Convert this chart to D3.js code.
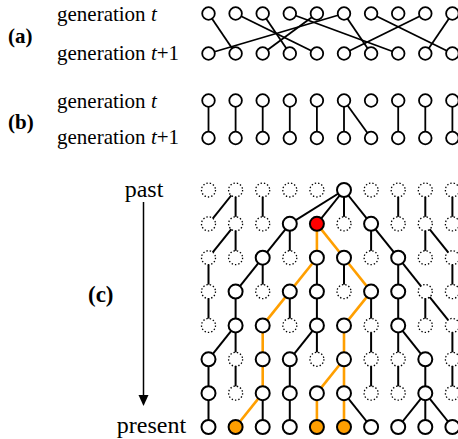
<!DOCTYPE html>
<html>
<head>
<meta charset="utf-8">
<script src="https://cdn.jsdelivr.net/npm/d3@7"></script>
<style>
  body { margin: 0; background: #fff; }
  svg { display: block; }
</style>
</head>
<body>
<script>
const width = 458, height = 439;
const FONT = "'Liberation Serif', 'Times New Roman', Times, serif";

const cols = d3.range(10);

// (a) parent (column in generation t) of each individual in generation t+1
const parentsA = [5, 0, 4, 2, 1, 8, 5, 3, 9, 6];
// (b) one individual reproduces, one dies
const parentsB = [0, 1, 2, 3, 4, 5, 5, 7, 8, 9];
// (c) parent of each individual, one row per generation, past -> present
const parentsC = [
  [1, 1, 2, 5, 5, 5, 5, 7, 8, 9],
  [1, 1, 3, 3, 4, 4, 6, 6, 8, 8],
  [0, 2, 2, 4, 4, 5, 5, 7, 7, 9],
  [0, 1, 3, 3, 4, 6, 6, 7, 8, 8],
  [1, 1, 2, 4, 4, 5, 6, 7, 7, 9],
  [0, 1, 2, 3, 5, 5, 6, 7, 8, 9],
  [0, 2, 2, 3, 4, 5, 5, 8, 8, 8]
];
// sampled individuals of the present generation
const sample = [1, 4, 5];

const ORANGE = "#ff9f00", RED = "#ff0000";

const x = d3.scalePoint()
    .domain(cols)
    .range([208.5, 452.4]);

const y = d3.scalePoint()
    .domain(d3.range(parentsC.length + 1))
    .range([190, 427]);

const svg = d3.select("body").append("svg")
    .attr("width", width)
    .attr("height", height)
    .attr("font-family", FONT)
    .attr("font-size", 21);

function label(g, px, py, parts, opts = {}) {
  const t = g.append("text")
      .attr("x", px)
      .attr("y", py)
      .attr("font-family", FONT)
      .attr("font-size", opts.size || 21)
      .attr("font-weight", opts.bold ? "bold" : null)
      .attr("text-anchor", opts.anchor || "start");
  parts.forEach(p => t.append("tspan")
      .attr("font-style", p[1] ? "italic" : null)
      .text(p[0]));
  return t;
}

// panels (a) and (b)
function generationPair(parents, y0, y1, tag) {
  const g = svg.append("g");

  g.selectAll("line")
      .data(parents)
    .enter().append("line")
      .attr("x1", d => x(d))
      .attr("y1", y0)
      .attr("x2", (d, i) => x(i))
      .attr("y2", y1)
      .attr("stroke", "#000")
      .attr("stroke-width", 1.8);

  [y0, y1].forEach(cy => {
    g.selectAll(null)
        .data(cols)
      .enter().append("circle")
        .attr("cx", d => x(d))
        .attr("cy", cy)
        .attr("r", 6.3)
        .attr("fill", "#fff")
        .attr("stroke", "#000")
        .attr("stroke-width", 1.8);
  });

  label(g, 57, y0 + 7, [["generation "], ["t", true]]);
  label(g, 57, y1 + 6, [["generation "], ["t", true], ["+1"]]);
  label(g, 8, (y0 + y1) / 2 + 9.5, [[tag]], {bold: true});
}

generationPair(parentsA, 13.5, 53.5, "(a)");
generationPair(parentsB, 100.5, 138, "(b)");

// panel (c): genealogy
const nRows = parentsC.length + 1;

// which individuals leave descendants in the present
const alive = d3.range(nRows).map(() => cols.map(() => false));
alive[nRows - 1] = cols.map(() => true);
for (let r = nRows - 1; r > 0; r--) {
  parentsC[r - 1].forEach((p, i) => { if (alive[r][i]) alive[r - 1][p] = true; });
}

// every parent-child link
const links = [];
parentsC.forEach((row, k) => {
  row.forEach((p, i) => links.push({r: k + 1, from: p, to: i, hl: false}));
});

// trace the sample back to its most recent common ancestor
let lineages = sample.slice(), mrca = null;
for (let r = nRows - 1; r > 0 && !mrca; r--) {
  lineages.forEach(i => {
    links.find(l => l.r === r && l.to === i).hl = true;
  });
  lineages = Array.from(new Set(lineages.map(i => parentsC[r - 1][i])));
  if (lineages.length === 1) mrca = {r: r - 1, i: lineages[0]};
}

const nodes = [];
d3.range(nRows).forEach(r => cols.forEach(i => nodes.push({r, i, alive: alive[r][i]})));

const gc = svg.append("g");

gc.selectAll(".link")
    .data(links.filter(l => !l.hl).concat(links.filter(l => l.hl)))
  .enter().append("line")
    .attr("class", "link")
    .attr("x1", d => x(d.from))
    .attr("y1", d => y(d.r - 1))
    .attr("x2", d => x(d.to))
    .attr("y2", d => y(d.r))
    .attr("stroke", d => d.hl ? ORANGE : "#000")
    .attr("stroke-width", d => d.hl ? 2.6 : 2);

gc.selectAll(".node")
    .data(nodes)
  .enter().append("circle")
    .attr("class", "node")
    .attr("cx", d => x(d.i))
    .attr("cy", d => y(d.r))
    .attr("r", 7)
    .attr("fill", d => {
      if (mrca && d.r === mrca.r && d.i === mrca.i) return RED;
      if (d.r === nRows - 1 && sample.includes(d.i)) return ORANGE;
      return "#fff";
    })
    .attr("stroke", "#000")
    .attr("stroke-width", d => d.alive ? 2 : 1.3)
    .attr("stroke-dasharray", d => d.alive ? null : "1.4,2");

// time arrow
gc.append("line")
    .attr("x1", 143.5).attr("y1", 202)
    .attr("x2", 143.5).attr("y2", 396)
    .attr("stroke", "#000")
    .attr("stroke-width", 1.5);

gc.append("path")
    .attr("d", "M138.5,395 L148.5,395 L143.5,406 Z")
    .attr("fill", "#000");

label(gc, 144, 197, [["past"]], {size: 24, anchor: "middle"});
label(gc, 151.5, 433, [["present"]], {size: 24, anchor: "middle"});
label(gc, 88, 302, [["(c)"]], {bold: true, size: 23});
</script>
</body>
</html>
